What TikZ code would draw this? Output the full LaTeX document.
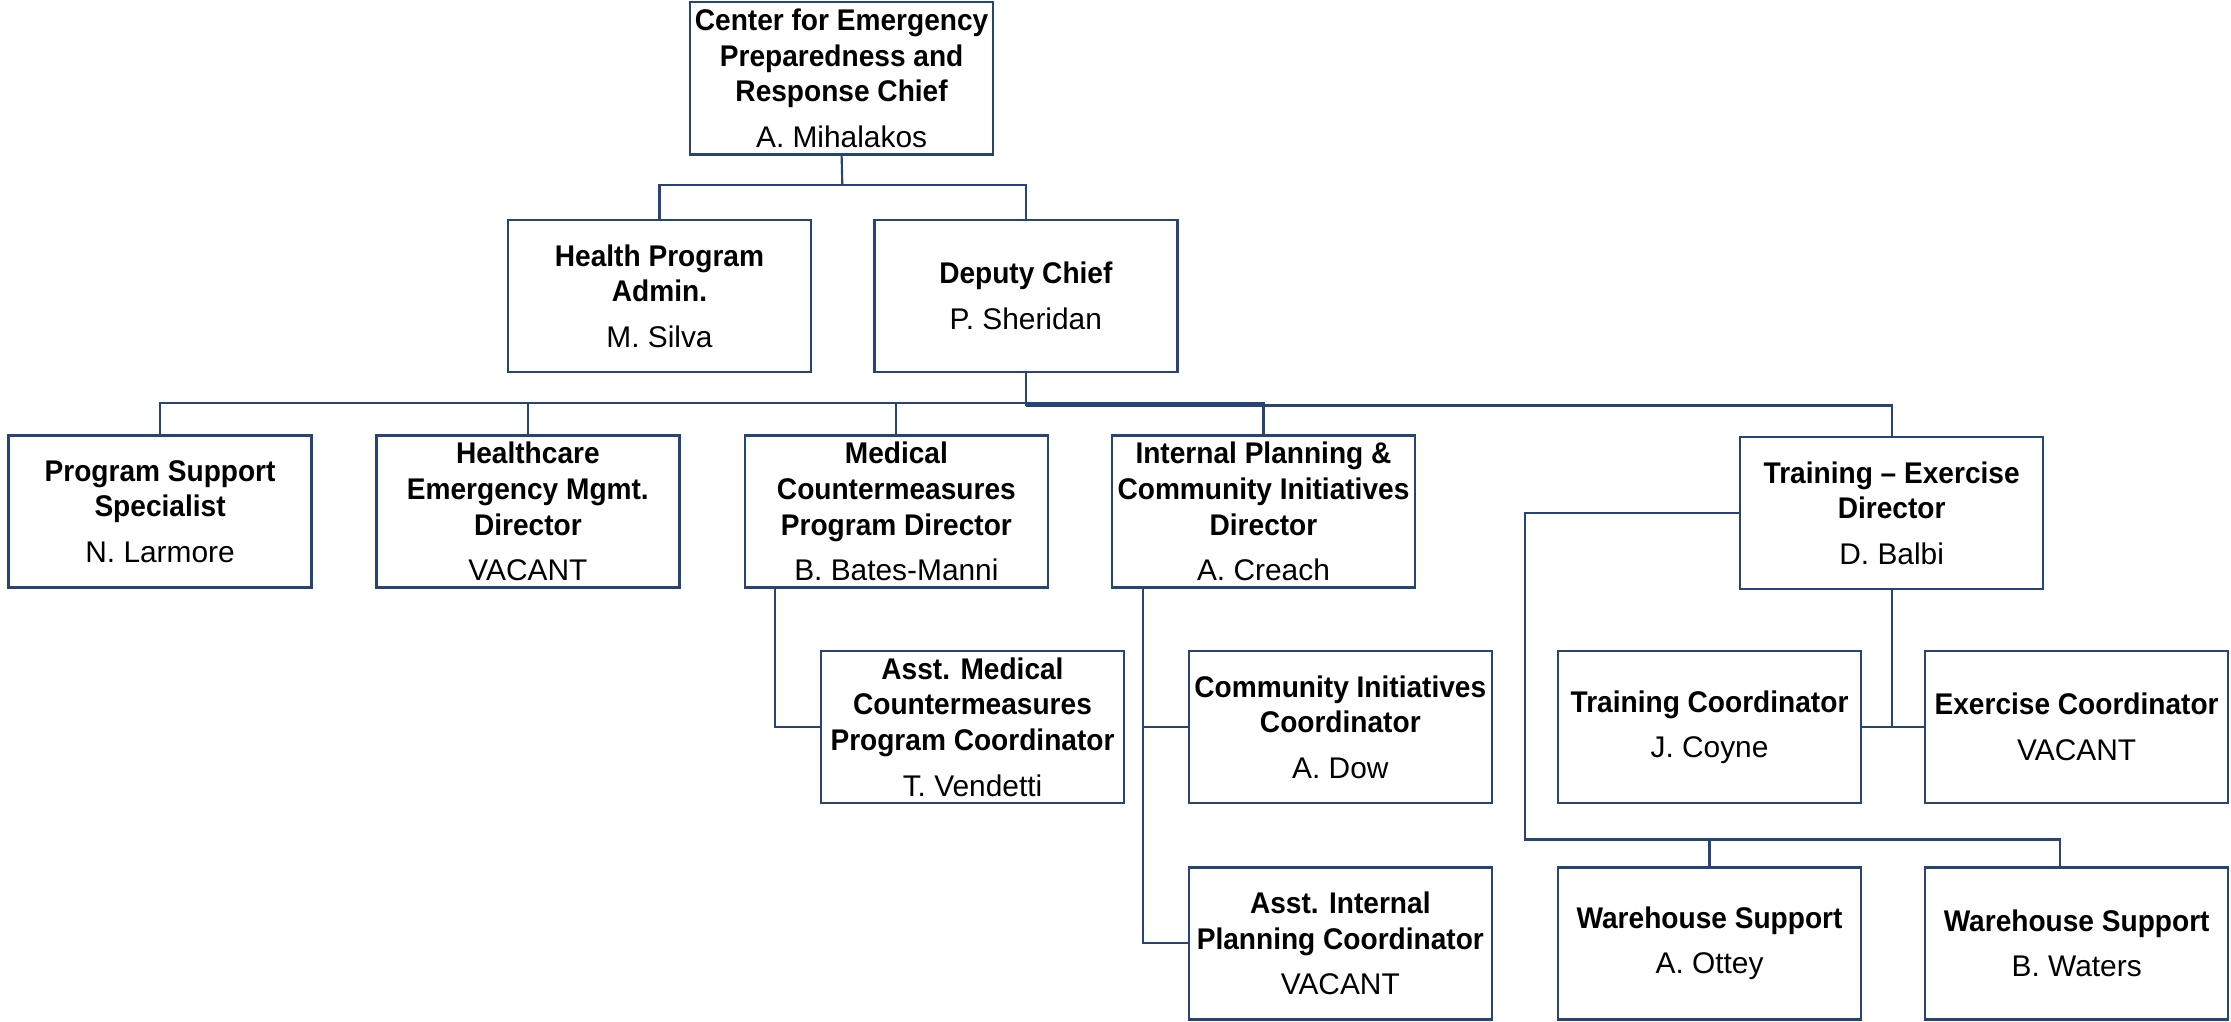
\documentclass[tikz,border=0pt]{standalone}
\usepackage{fontspec}
\setmainfont{Liberation Sans}
\newfontfamily\ttlfont{Liberation Sans}[FakeStretch=0.94]
\newfontfamily\namefont{Liberation Sans}
\usetikzlibrary{calc}
\definecolor{navy}{RGB}{38,68,120}
\tikzset{
  box/.style={draw=navy, line width=0.9pt, minimum width=106.5pt, minimum height=53.5pt,
    inner sep=0pt, align=center, text=black,
    font=\ttlfont\bfseries\fontsize{10.5}{12.5}\selectfont},
  conn/.style={draw=navy, line width=0.75pt},
}
\newcommand{\nm}[1]{\\[3.5pt]{\namefont\mdseries #1}}
\begin{document}
\begin{tikzpicture}[x=0.5pt,y=-0.5pt]
\useasboundingbox (0,0) rectangle (1568,718);
% row 1 and 2
\node[box] (top) at (591.5,55) {Center for Emergency\\Preparedness and\\Response Chief\nm{A. Mihalakos}};
\node[box] (health) at (463.5,208) {Health Program\\Admin.\nm{M. Silva}};
\node[box] (deputy) at (721,208) {Deputy Chief\nm{P. Sheridan}};
% row 3
\node[box] (ps) at (112.5,359.5) {Program Support\\Specialist\nm{N. Larmore}};
\node[box] (hc) at (371,359.5) {Healthcare\\Emergency Mgmt.\\Director\nm{VACANT}};
\node[box] (mc) at (630,359.5) {Medical\\Countermeasures\\Program Director\nm{B. Bates-Manni}};
\node[box] (ip) at (888,359.5) {Internal Planning \&\\Community Initiatives\\Director\nm{A. Creach}};
\node[box] (te) at (1329.5,360.5) {Training – Exercise\\Director\nm{D. Balbi}};
% row 4 and 5
\node[box] (amc) at (683.5,511) {Asst. Medical\\Countermeasures\\Program Coordinator\nm{T. Vendetti}};
\node[box] (ci) at (942,511) {Community Initiatives\\Coordinator\nm{A. Dow}};
\node[box] (aip) at (942,663) {Asst. Internal\\Planning Coordinator\nm{VACANT}};
\node[box] (tc) at (1201.5,511) {Training Coordinator\nm{J. Coyne}};
\node[box] (ec) at (1459.5,511) {Exercise Coordinator\nm{VACANT}};
\node[box] (w1) at (1201.5,663) {Warehouse Support\nm{A. Ottey}};
\node[box] (w2) at (1459.5,663) {Warehouse Support\nm{B. Waters}};
% connectors
\coordinate (b1) at (592,130);
\draw[conn] (top.south) -- (b1);
\draw[conn] (health.north) |- (b1) -| (deputy.north);
\coordinate (busA) at (721,283.5);
\coordinate (busB) at (721,285);
\draw[conn] (deputy.south) -- (busB);
\draw[conn] (ps.north) |- (busA) -| (ip.north);
\draw[conn] (busB) -| (te.north);
\draw[conn] (hc.north) -- (hc.north |- busA);
\draw[conn] (mc.north) -- (mc.north |- busA);
\coordinate (mcstem) at ($(mc.south west)+(22,0)$);
\draw[conn] (mcstem) |- (amc.west);
\coordinate (ipstem) at ($(ip.south west)+(23,0)$);
\draw[conn] (ipstem) |- (aip.west);
\draw[conn] (ci.west) -- (ci.west -| ipstem);
\draw[conn] (te.south) -- (te.south |- tc.east);
\draw[conn] (tc.east) -- (ec.west);
\coordinate (wl) at (1072,590);
\coordinate (w2top) at ($(w2.north)+(-12,0)$);
\draw[conn] (te.west) -| (wl) -| (w2top);
\draw[conn] (w1.north) -- (w1.north |- wl);
\end{tikzpicture}
\end{document}
